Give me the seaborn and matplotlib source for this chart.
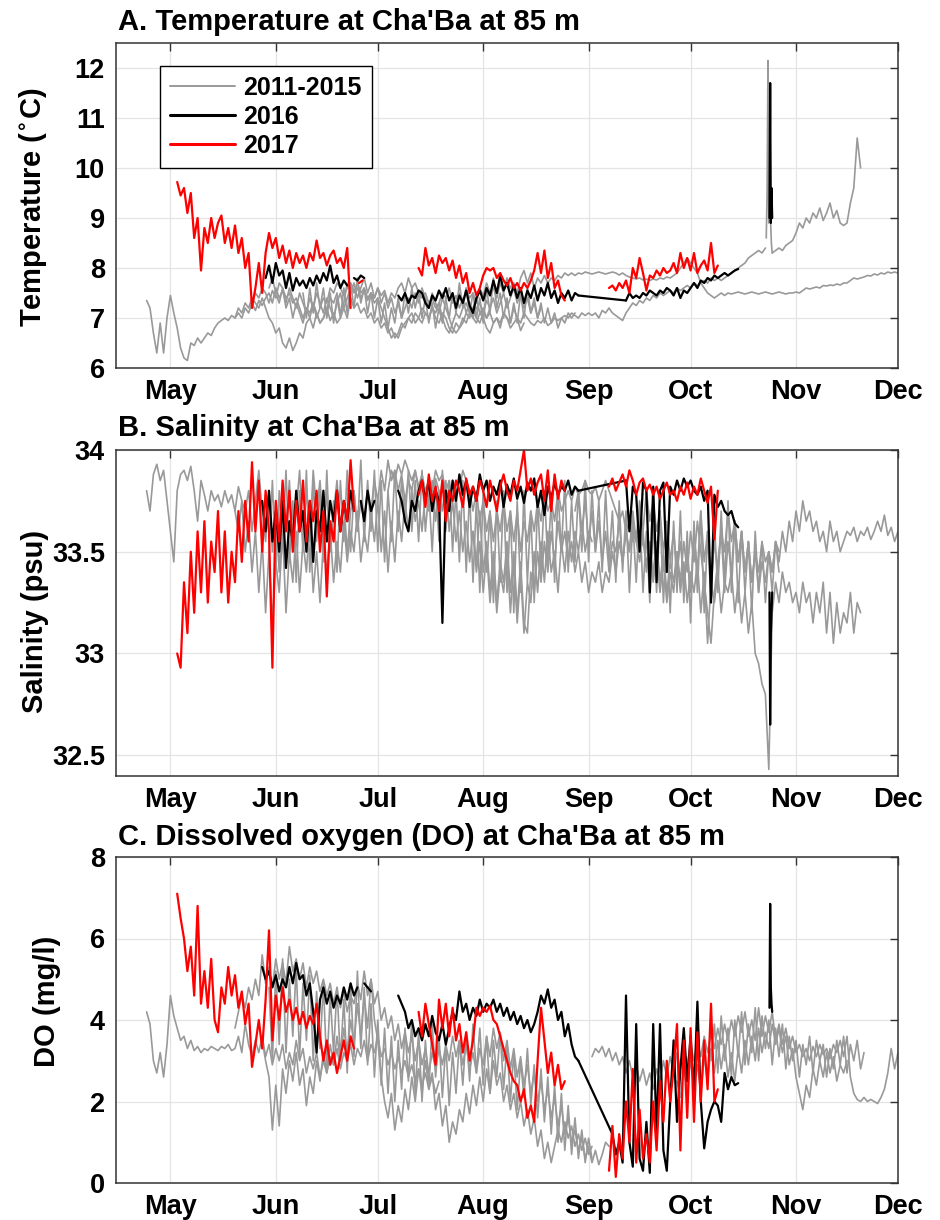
import numpy as np
import pandas as pd
import matplotlib
matplotlib.use("Agg")
import matplotlib.pyplot as plt
import seaborn as sns
from matplotlib.lines import Line2D

# ---------------- categories / ticks ----------------
month_days = [121, 152, 182, 213, 244, 274, 305, 335]   # day of year, 1st of month
month_labels = ["May", "Jun", "Jul", "Aug", "Sep", "Oct", "Nov", "Dec"]
groups = ["2011-2015", "2016", "2017"]
temp_ticks = [6, 7, 8, 9, 10, 11, 12]
sal_ticks = [32.5, 33, 33.5, 34]
sal_tick_labels = ["32.5", "33", "33.5", "34"]
do_ticks = [0, 2, 4, 6, 8]

# ---------------- Panel A: temperature (daily values unless noted) ----------------
tA_g1_start = 114
tA_g1 = [7.35, 7.2, 6.7, 6.3, 6.9, 6.3, 7.0, 7.45, 7.1, 6.8, 6.4, 6.2, 6.15, 6.5, 6.45, 6.6, 6.5, 6.6, 6.7, 6.65,
         6.8, 6.9, 6.95, 7.0, 6.95, 7.05, 7.0, 7.1, 7.0, 7.2, 7.1, 7.3, 7.15, 7.35, 7.25, 7.4, 7.5, 7.3, 7.6, 7.4,
         7.55, 7.3, 7.6, 7.4, 7.2, 7.5, 7.3, 7.1, 7.4, 7.2, 7.5, 7.3, 7.1, 7.4, 7.2, 7.0, 7.3, 7.5, 7.2, 7.4,
         7.6, 7.5, 7.7, 7.5, 7.6, 7.4, 7.5, 7.3, 7.4, 7.2, 7.0, 6.8, 6.6, 6.7, 6.6, 6.8, 6.9, 7.0, 7.1, 6.9,
         7.0, 7.2, 7.1, 7.0, 7.2, 7.1, 7.3, 7.0, 6.8, 6.7, 6.9, 7.1, 7.0, 7.2, 7.3, 7.1, 7.2, 7.4, 7.1, 7.0,
         6.8, 6.7, 6.9, 7.0, 6.8, 7.1, 7.0, 6.9, 7.2, 7.0, 6.75, 6.9]
tA_g2_start = 140
tA_g2 = [7.0, 7.2, 7.1, 7.3, 7.2, 7.4, 7.3, 7.2, 7.4, 7.2, 7.0, 6.9, 6.7, 6.8, 6.5, 6.4, 6.6, 6.35, 6.5, 6.7,
         6.6, 6.9, 7.0, 6.8, 7.1, 6.9, 7.0, 7.2, 6.95, 7.1, 6.9, 7.0, 7.2, 7.0, 7.4, 7.2, 7.3, 7.1, 7.2, 7.0,
         7.1, 6.9, 7.0, 6.8, 6.9, 6.7, 6.8, 6.6, 6.7, 6.9, 6.8, 7.0, 6.9, 7.1, 7.0, 6.9, 7.1, 7.0, 7.2, 7.0,
         6.9, 7.1, 7.0, 6.8, 6.7, 6.9, 6.8, 7.0, 6.9, 7.1, 7.0, 6.9, 7.1, 7.2, 7.0, 7.1, 6.9, 7.0, 6.9, 7.1,
         7.0, 6.8, 6.9, 7.0, 6.9, 7.1, 7.0, 6.9, 6.85, 6.95, 6.9, 7.0, 6.85, 6.9, 7.0, 6.95, 7.0, 7.05, 7.0, 7.1,
         7.05, 7.0, 7.1, 7.05, 7.1, 7.05, 7.1, 7.0, 7.15, 7.1, 7.2, 7.1, 7.05, 7.0, 6.95, 7.1, 7.2, 7.3, 7.25, 7.35,
         7.3, 7.4, 7.35, 7.45, 7.4, 7.5, 7.45, 7.5, 7.55, 7.5, 7.6, 7.55, 7.6, 7.65, 7.6, 7.7, 7.65, 7.7, 7.75, 7.7,
         7.8, 7.75, 7.8, 7.75, 7.8, 7.85, 7.9, 7.95, 8.0, 8.05, 8.1, 8.2, 8.25, 8.3, 8.35, 8.3, 8.4]
tA_g2s_start = 296.25
tA_g2s = [8.6, 9.5, 12.15, 8.9, 9.8, 9.0, 8.5, 8.3]          # 6-hourly
tA_g2b_start = 298
tA_g2b = [8.3, 8.35, 8.4, 8.35, 8.45, 8.5, 8.55, 8.7, 8.9, 8.8, 9.0, 8.9, 9.1, 9.0, 9.2, 8.95, 9.1, 9.3, 9.0, 9.15,
          8.9, 8.85, 8.9, 9.3, 9.6, 10.6, 10.0]
tA_g3_start = 205
tA_g3 = [7.4, 7.5, 7.3, 7.6, 7.4, 7.5, 7.3, 7.6, 7.45, 7.7, 7.5, 7.6, 7.4, 7.7, 7.5, 7.8, 7.6, 7.7, 7.5, 7.8,
         7.95, 7.7, 7.9, 7.6, 7.8, 7.7, 7.85, 7.7, 7.8, 7.75, 7.85, 7.8, 7.9, 7.85, 7.9, 7.85, 7.9, 7.88, 7.92, 7.9,
         7.88, 7.9, 7.92, 7.9, 7.88, 7.9, 7.92, 7.9, 7.86, 7.9, 7.85, 7.82, 7.8, 7.78, 7.8, 7.76, 7.78, 7.75, 7.78, 7.76,
         7.8, 7.78, 7.82, 7.8, 7.85, 7.9, 8.0, 8.1, 8.2, 8.1, 8.0, 7.9, 7.7, 7.6, 7.5, 7.45, 7.4, 7.45, 7.5, 7.45,
         7.5, 7.48, 7.5, 7.52, 7.5, 7.48, 7.5, 7.52, 7.5, 7.48, 7.5, 7.52, 7.5, 7.48, 7.5, 7.52, 7.5, 7.48, 7.5, 7.5,
         7.52, 7.5, 7.55, 7.6, 7.58, 7.6, 7.62, 7.6, 7.65, 7.64, 7.66, 7.65, 7.68, 7.66, 7.7, 7.7, 7.75, 7.8, 7.78, 7.8,
         7.82, 7.85, 7.84, 7.88, 7.86, 7.9, 7.88, 7.92, 7.9, 7.92, 7.9]
tA_g4_start = 145
tA_g4 = [7.3, 7.5, 7.4, 7.6, 7.5, 7.3, 7.55, 7.4, 7.7, 7.6, 7.4, 7.5, 7.3, 7.4, 7.2, 7.0, 7.2, 7.1, 7.3, 7.0,
         7.2, 7.4, 7.3, 7.6, 7.5, 7.7, 7.6, 7.45, 7.6, 7.7, 7.55, 7.6, 7.4, 7.55, 7.35, 7.5, 7.4, 7.6, 7.45, 7.55,
         7.3, 7.5, 7.4, 7.6, 7.7, 7.5, 7.8, 7.6, 7.7, 7.5, 7.4, 7.5, 7.3, 7.4, 7.2, 7.3, 7.5, 7.4, 7.6, 7.3,
         7.45, 7.2, 7.4, 7.1, 7.3, 7.0, 7.2, 7.3, 7.1, 7.35, 7.2, 7.4, 7.1, 7.3, 7.5, 7.2, 7.4, 7.6, 7.3, 7.5,
         7.2, 7.4, 7.1, 7.3, 7.0, 7.2]
tA_g5_start = 150
tA_g5 = [7.6, 7.8, 7.5, 7.3, 7.6, 7.2, 7.4, 7.0, 7.3, 7.1, 6.9, 7.2, 7.0, 7.3, 7.1, 6.9, 7.0, 7.2, 7.4, 7.3,
         7.5, 7.1, 7.3, 7.7, 7.5, 7.7, 7.4, 7.6, 7.8, 7.5, 7.7, 7.4, 7.6, 7.3, 7.5, 7.2, 7.4, 7.1, 7.3, 7.0,
         7.2, 7.4, 7.2, 7.5, 7.3, 7.6, 7.4, 7.2, 7.5, 7.3, 7.1, 7.4, 7.2, 7.0, 6.8, 6.7, 6.8, 6.9, 7.1, 7.0,
         7.2, 7.0, 6.9, 7.1, 7.0, 7.2]
tA_g6_start = 160
tA_g6 = [7.5, 7.0, 7.6, 7.1, 7.7, 7.2, 7.6, 7.0, 7.5, 6.9, 7.4, 7.0, 7.6, 7.1, 7.7, 7.2, 7.8, 7.3, 7.6, 7.1,
         7.5, 7.0, 7.4, 6.9, 7.3, 6.8, 7.2, 6.9, 7.4, 7.0, 7.5, 7.1, 7.6, 7.2, 7.5, 7.0, 7.4, 6.9, 7.3, 6.8,
         7.2, 6.9, 7.4, 7.0, 7.5, 7.1, 7.7, 7.2, 7.6, 7.1, 7.5, 7.0, 7.4, 6.9, 7.6, 7.1, 7.8, 7.2, 7.5, 7.0,
         7.4, 6.9, 7.3, 6.9, 7.5, 7.0, 7.6, 7.1, 7.4, 7.0, 7.3, 6.9, 7.2, 6.9, 7.1, 6.8, 7.0, 6.9, 7.1, 7.0, 7.1]

tA_k1_start = 149
tA_k1 = [7.8, 8.05, 7.7, 8.1, 7.85, 7.95, 7.6, 7.9, 7.55, 7.8, 7.65, 7.75, 7.6, 7.8, 7.65, 7.85, 7.7, 7.9, 7.75, 8.05,
         7.7, 7.85, 7.6, 7.75, 7.65]
tA_k1b_start = 175
tA_k1b = [7.8, 7.75, 7.85, 7.8]
tA_k2_start = 188
tA_k2 = [7.45, 7.35, 7.5, 7.3, 7.45, 7.4, 7.55, 7.5, 7.3, 7.2, 7.45, 7.35, 7.55, 7.4, 7.6, 7.35, 7.5, 7.2, 7.45, 7.3,
         7.55, 7.25, 7.1, 7.4, 7.55, 7.35, 7.6, 7.45, 7.75, 7.5, 7.85, 7.55, 7.7, 7.45, 7.65, 7.4, 7.6, 7.3, 7.55, 7.4,
         7.65, 7.35, 7.6, 7.45, 7.7, 7.4, 7.55, 7.3, 7.5, 7.4, 7.55, 7.35, 7.5, 7.45]
tA_kbridge_days = [241, 255]
tA_kbridge = [7.45, 7.35]
tA_k3_start = 255
tA_k3 = [7.35, 7.5, 7.4, 7.45, 7.4, 7.5, 7.45, 7.55, 7.5, 7.45, 7.55, 7.5, 7.6, 7.55, 7.45, 7.6, 7.4, 7.55, 7.5, 7.6,
         7.7, 7.6, 7.75, 7.7, 7.8, 7.75, 7.85, 7.8, 7.85, 7.9, 7.85, 7.9, 7.95, 7.98]
tA_kspike_start = 297.2
tA_kspike = [9.0, 11.7, 8.9, 9.6, 9.0]                       # 0.2-day steps

tA_r1_start = 123
tA_r1 = [9.72, 9.45, 9.6, 9.1, 9.5, 8.6, 9.0, 7.95, 8.8, 8.5, 9.0, 8.6, 8.9, 9.05, 8.5, 8.8, 8.4, 8.85, 8.3, 8.6,
         8.0, 8.3, 7.2, 7.6, 8.1, 7.5, 8.3, 8.7, 8.4, 8.6, 8.2, 8.45, 8.1, 8.35, 8.0, 8.3, 8.1, 8.25, 8.0, 8.3,
         8.15, 8.55, 8.2, 8.3, 8.05, 8.25, 8.35, 8.1, 8.2, 8.0, 8.4, 7.2]
tA_r1b_start = 176.5
tA_r1b = [7.7, 7.75]
tA_r2_start = 194
tA_r2 = [8.0, 7.85, 8.4, 8.05, 8.2, 7.9, 8.25, 8.1, 8.2, 7.95, 8.15, 7.8, 8.05, 7.7, 7.9, 7.5, 7.7, 7.45, 7.6, 7.85,
         8.0, 7.95, 8.0, 7.8, 7.9, 7.75, 7.65, 7.8, 7.6, 7.7, 7.55, 7.7, 7.6, 7.75, 7.95, 8.3, 7.9, 8.35, 7.8, 8.1,
         7.6, 7.75, 7.45, 7.35]
tA_r3_start = 250
tA_r3 = [7.6, 7.65, 7.55, 7.7, 7.6, 7.75, 7.5, 8.0, 7.8, 8.2, 7.9, 7.55, 7.85, 7.8, 7.95, 7.85, 8.0, 7.9, 7.95, 8.1,
         7.9, 8.3, 8.0, 8.2, 7.95, 8.3, 7.9, 8.05, 8.15, 7.95, 8.5, 7.9, 8.05]

# ---------------- Panel B: salinity ----------------
sB_g1_start = 114
sB_g1 = [33.8, 33.7, 33.88, 33.93, 33.85, 33.9, 33.75, 33.6, 33.45, 33.8, 33.88, 33.9, 33.85, 33.92, 33.8, 33.65, 33.85,
         33.78, 33.7, 33.8, 33.75, 33.78, 33.72, 33.8, 33.74, 33.78, 33.7, 33.82, 33.75, 33.7, 33.8, 33.6, 33.75, 33.9,
         33.7, 33.55, 33.8, 33.5, 33.75, 33.4, 33.7, 33.6, 33.85, 33.5, 33.7, 33.9, 33.6, 33.8, 33.55, 33.9, 33.7,
         33.85, 33.6, 33.8, 33.5, 33.7, 33.85, 33.6, 33.75, 33.5, 33.7, 33.8, 33.6, 33.75, 33.65, 33.8, 33.7, 33.85,
         33.75, 33.9, 33.8, 33.95, 33.85, 33.9, 33.8, 33.88, 33.75, 33.85, 33.8, 33.9, 33.82, 33.88, 33.8, 33.85,
         33.78, 33.86, 33.8]
sB_g2_start = 140
sB_g2 = [33.7, 33.6, 33.75, 33.5, 33.65, 33.4, 33.6, 33.3, 33.55, 33.2, 33.5, 33.15, 33.45, 33.3, 33.6, 33.2, 33.5,
         33.35, 33.6, 33.3, 33.55, 33.4, 33.65, 33.3, 33.5, 33.25, 33.55, 33.4, 33.6, 33.35, 33.55, 33.4, 33.65, 33.45,
         33.6, 33.5, 33.7, 33.45, 33.6, 33.5, 33.7, 33.55, 33.75, 33.5, 33.7, 33.4, 33.65, 33.45, 33.7, 33.55, 33.75,
         33.6, 33.8, 33.65, 33.75, 33.6, 33.8, 33.7, 33.85, 33.65, 33.8, 33.7, 33.85, 33.6, 33.75, 33.55, 33.7, 33.5,
         33.65, 33.45, 33.6, 33.4, 33.55, 33.3, 33.5, 33.25, 33.45, 33.2, 33.4, 33.3, 33.5, 33.2, 33.45, 33.15, 33.4,
         33.1, 33.35, 33.25, 33.5, 33.3, 33.55, 33.35, 33.6, 33.4, 33.5, 33.3, 33.55, 33.4, 33.6, 33.45, 33.6, 33.5,
         33.65, 33.5, 33.6, 33.55]
sB_g3_start = 185
sB_g3 = [33.8, 33.9, 33.85, 33.93, 33.88, 33.95, 33.9, 33.85, 33.9, 33.8, 33.85, 33.75, 33.85, 33.8, 33.9, 33.85, 33.88,
         33.8, 33.85, 33.75, 33.85, 33.8, 33.9, 33.85, 33.8, 33.7, 33.8, 33.65, 33.75, 33.6, 33.7, 33.55, 33.7, 33.6,
         33.75, 33.6, 33.7, 33.55, 33.7, 33.5, 33.65, 33.55, 33.7, 33.6, 33.75, 33.65, 33.8, 33.7, 33.75, 33.65, 33.8,
         33.7, 33.75, 33.8, 33.75, 33.82, 33.78, 33.8, 33.85, 33.8, 33.78, 33.82, 33.75, 33.8, 33.85, 33.8, 33.75, 33.7,
         33.65, 33.7, 33.6, 33.65, 33.55, 33.6, 33.5, 33.55, 33.45, 33.5, 33.4, 33.55, 33.35, 33.5, 33.3, 33.45, 33.35,
         33.5, 33.3, 33.45, 33.25, 33.4, 33.3, 33.45, 33.2, 33.4, 33.05, 33.35, 33.25, 33.4, 33.2, 33.35, 33.3, 33.4,
         33.2, 33.35, 33.15, 33.3, 33.1, 33.25, 33.0, 32.95, 32.85, 32.8, 32.43, 33.2, 33.35, 33.25, 33.4, 33.3, 33.35,
         33.25, 33.3, 33.2, 33.35, 33.25, 33.3, 33.15, 33.3, 33.2, 33.35, 33.1, 33.3, 33.05, 33.25, 33.1, 33.2, 33.15,
         33.3, 33.1, 33.25, 33.2]
sB_g4_start = 240
sB_g4 = [33.7, 33.8, 33.6, 33.75, 33.55, 33.7, 33.5, 33.65, 33.45, 33.6, 33.4, 33.55, 33.5, 33.65, 33.45, 33.6, 33.5,
         33.7, 33.55, 33.75, 33.6, 33.8, 33.65, 33.75, 33.6, 33.7, 33.5, 33.65, 33.45, 33.6, 33.4, 33.55, 33.35, 33.5,
         33.3, 33.6, 33.4, 33.7, 33.45, 33.6, 33.35, 33.55, 33.4, 33.6, 33.3, 33.55, 33.4, 33.65, 33.45, 33.6, 33.4,
         33.55, 33.35, 33.5, 33.3, 33.45, 33.35, 33.5, 33.4, 33.55, 33.45, 33.6, 33.5, 33.65, 33.55, 33.7, 33.6, 33.75,
         33.65, 33.7, 33.6, 33.65, 33.55, 33.6, 33.5, 33.65, 33.55, 33.6, 33.5, 33.55, 33.6, 33.58, 33.62, 33.55, 33.6,
         33.58, 33.62, 33.56, 33.6, 33.65, 33.6, 33.68, 33.58, 33.62, 33.55, 33.6]
sB_g5_start = 210
sB_g5 = [33.6, 33.45, 33.7, 33.4, 33.55, 33.3, 33.5, 33.25, 33.45, 33.35, 33.55, 33.3, 33.5, 33.2, 33.45, 33.15, 33.1,
         33.4, 33.3, 33.5, 33.35, 33.55, 33.4, 33.6, 33.45, 33.65, 33.5, 33.6, 33.45, 33.55, 33.4, 33.5, 33.35, 33.45,
         33.3, 33.4, 33.35, 33.45, 33.3, 33.4, 33.35, 33.5, 33.4, 33.55, 33.45, 33.6, 33.5, 33.65, 33.55, 33.45, 33.6,
         33.4, 33.55, 33.35, 33.5, 33.3, 33.45, 33.25, 33.4, 33.3, 33.5, 33.35, 33.55, 33.4, 33.6, 33.45, 33.65, 33.5,
         33.35, 33.2, 33.05, 33.3, 33.45, 33.6, 33.5, 33.7, 33.55, 33.65, 33.45, 33.6, 33.4, 33.55, 33.35, 33.5, 33.4,
         33.55, 33.45, 33.5, 33.4, 33.55, 33.5]
sB_g6_start = 150
sB_g6 = [33.5, 33.85, 33.4, 33.8, 33.55, 33.9, 33.45, 33.75, 33.35, 33.8, 33.5, 33.9, 33.4, 33.85, 33.55, 33.8, 33.45, 33.9, 33.5, 33.75,
         33.4, 33.85, 33.55, 33.9, 33.5, 33.8, 33.6, 33.95, 33.55, 33.85, 33.6, 33.9, 33.5, 33.85, 33.45, 33.8, 33.55, 33.9, 33.6, 33.85,
         33.65, 33.9, 33.6, 33.85, 33.55, 33.9, 33.6, 33.8, 33.5, 33.85, 33.55, 33.9, 33.6, 33.85, 33.5, 33.8, 33.45, 33.85, 33.4, 33.8,
         33.35, 33.75, 33.3, 33.8, 33.4, 33.7, 33.25, 33.75, 33.35, 33.8, 33.3, 33.7, 33.2, 33.75, 33.3, 33.8, 33.35, 33.7, 33.25, 33.75,
         33.4, 33.8, 33.45, 33.75, 33.35, 33.8, 33.5, 33.85, 33.4, 33.75, 33.45, 33.8, 33.5, 33.85, 33.45, 33.8, 33.5, 33.75, 33.4, 33.8,
         33.45, 33.7, 33.35, 33.75, 33.4, 33.7, 33.3, 33.65, 33.35, 33.7, 33.3, 33.6, 33.25, 33.65, 33.3, 33.7, 33.25, 33.6, 33.2, 33.65,
         33.3, 33.7, 33.25, 33.6, 33.15, 33.65, 33.3, 33.7, 33.2, 33.6, 33.25, 33.65, 33.3, 33.7, 33.35, 33.75, 33.3, 33.65, 33.25, 33.6,
         33.3, 33.55, 33.2, 33.6, 33.3, 33.55, 33.25, 33.5, 33.3, 33.55, 33.4]

sB_k1_start = 148
sB_k1 = [33.75, 33.6, 33.8, 33.55, 33.7, 33.5, 33.75, 33.42, 33.65, 33.55, 33.8, 33.6, 33.7, 33.5, 33.75, 33.45, 33.7,
         33.6, 33.8, 33.55, 33.75, 33.65, 33.8, 33.6, 33.75, 33.65, 33.8, 33.7]
sB_k1b_start = 177
sB_k1b = [33.75, 33.65, 33.8, 33.7, 33.75]
sB_k2_start = 188
sB_k2 = [33.8, 33.75, 33.65, 33.6, 33.75, 33.7, 33.8, 33.85, 33.75, 33.85, 33.7, 33.8, 33.75, 33.15, 33.8, 33.7, 33.85,
         33.75, 33.88, 33.78, 33.85, 33.72, 33.82, 33.75, 33.88, 33.8, 33.85, 33.75, 33.82, 33.78, 33.85, 33.72, 33.83,
         33.78, 33.86, 33.76, 33.82, 33.74, 33.84, 33.8, 33.86, 33.72, 33.8, 33.68, 33.82, 33.76, 33.84, 33.78, 33.82,
         33.8, 33.85, 33.78, 33.82, 33.8]
sB_kbridge_days = [241, 255]
sB_kbridge = [33.8, 33.85]
sB_k3_start = 255
sB_k3 = [33.85, 33.6, 33.82, 33.78, 33.5, 33.84, 33.8, 33.3, 33.82, 33.35, 33.8, 33.84, 33.4, 33.82, 33.78, 33.85, 33.8,
         33.86, 33.82, 33.85, 33.8, 33.78, 33.82, 33.75, 33.8, 33.25, 33.78, 33.72, 33.75, 33.7, 33.68, 33.7, 33.64, 33.62]
sB_kspike_start = 297.2
sB_kspike = [33.3, 32.65, 33.1, 33.2, 33.3]

sB_r1_start = 123
sB_r1 = [33.0, 32.93, 33.35, 33.1, 33.5, 33.2, 33.6, 33.3, 33.65, 33.25, 33.55, 33.4, 33.7, 33.3, 33.6, 33.25, 33.5,
         33.35, 33.7, 33.45, 33.75, 33.55, 33.94, 33.6, 33.85, 33.5, 33.8, 33.6, 32.93, 33.75, 33.55, 33.85, 33.6, 33.8,
         33.5, 33.75, 33.6, 33.85, 33.55, 33.75, 33.65, 33.8, 33.5, 33.7, 33.28, 33.65, 33.55, 33.8, 33.6, 33.75, 33.65,
         33.95, 33.7]
sB_r2_start = 194
sB_r2 = [33.78, 33.85, 33.72, 33.88, 33.75, 33.82, 33.7, 33.85, 33.65, 33.8, 33.75, 33.85, 33.8, 33.72, 33.86, 33.78,
         33.82, 33.75, 33.85, 33.8, 33.72, 33.85, 33.78, 33.7, 33.82, 33.88, 33.8, 33.75, 33.85, 33.8, 33.9, 34.0, 33.8,
         33.86, 33.78, 33.84, 33.88, 33.75, 33.9, 33.7, 33.88, 33.76, 33.85, 33.8]
sB_r3_start = 250
sB_r3 = [33.82, 33.86, 33.8, 33.84, 33.88, 33.82, 33.9, 33.85, 33.78, 33.84, 33.86, 33.8, 33.83, 33.78, 33.82, 33.76,
         33.8, 33.84, 33.78, 33.8, 33.75, 33.82, 33.78, 33.84, 33.76, 33.82, 33.78, 33.86, 33.8, 33.74, 33.82, 33.56, 33.8]

# ---------------- Panel C: dissolved oxygen ----------------
dC_g1_start = 114
dC_g1 = [4.2, 3.9, 3.0, 2.7, 3.2, 2.6, 3.4, 4.6, 4.1, 3.8, 3.5, 3.6, 3.3, 3.5, 3.25, 3.35, 3.2, 3.3, 3.25, 3.35,
         3.3, 3.25, 3.35, 3.3, 3.4, 3.25, 3.3, 3.6, 3.2, 3.9, 3.4, 3.1, 3.5, 3.2, 3.6, 3.1, 3.4, 2.9, 3.3, 3.0,
         3.4, 2.8, 3.2, 2.9, 3.5, 3.0, 3.3, 2.7, 3.1, 2.8, 3.2, 2.6, 3.0, 2.7, 3.1, 2.9, 3.3, 2.8, 3.2, 3.0,
         3.4, 2.9, 3.3, 3.1, 3.5, 3.0, 3.4, 3.2, 3.6, 3.1, 3.3, 2.9, 3.2, 2.8, 3.1, 2.7, 3.0, 2.6, 2.9, 2.5,
         2.8, 2.4, 2.7, 2.3, 2.6, 2.2, 2.5]
dC_g2_start = 140
dC_g2 = [3.8, 4.2, 4.6, 4.3, 4.8, 4.5, 5.0, 4.6, 5.6, 4.9, 5.3, 4.8, 5.5, 5.0, 5.4, 4.9, 5.8, 5.2, 5.5, 5.0,
         5.4, 4.8, 5.3, 4.9, 5.2, 4.7, 5.0, 4.6, 4.9, 4.4, 4.8, 4.3, 4.7, 4.2, 4.6, 4.4, 4.9, 4.5, 5.2, 4.6,
         5.0, 4.4, 4.7, 4.0, 4.3, 3.8, 4.1, 3.5, 3.9, 3.3, 3.7, 3.2, 3.6, 3.0, 3.5, 2.9, 3.3, 2.7, 3.2, 2.8,
         3.3, 2.9, 3.4, 3.0, 3.6, 3.1, 3.5, 2.9, 3.4, 2.8, 3.2, 2.7, 3.3, 2.9, 3.6, 3.1, 3.8, 3.3, 3.7, 3.0,
         3.5, 2.8, 3.3, 2.6, 3.1, 2.4, 2.9, 2.2, 2.7, 2.0, 2.5, 1.8, 2.3, 1.6, 2.1, 1.4, 1.9, 1.2, 1.6, 1.0,
         1.3, 0.8, 1.1, 0.6, 0.9, 0.5, 0.8, 0.45, 0.7, 1.0, 0.9]
dC_g3_start = 148
dC_g3 = [3.5, 3.0, 2.6, 1.3, 2.4, 1.4, 2.8, 2.2, 3.0, 2.5, 3.2, 2.4, 2.8, 1.9, 2.6, 2.2, 3.0, 2.5, 3.2, 2.7,
         3.4, 2.9, 3.6, 3.0, 3.8, 3.2, 4.0, 3.4, 4.4, 3.6, 4.6, 3.8, 5.0, 4.0, 3.5, 2.6, 2.0, 1.6, 2.2, 1.3,
         1.9, 1.5, 2.3, 1.8, 2.6, 2.0, 2.8, 2.2, 3.0, 2.4, 2.7, 1.8, 2.2, 1.4, 1.9, 1.0, 1.5, 1.2, 1.8, 1.5,
         2.2, 1.7, 2.4, 1.9, 2.6, 2.0, 2.8, 2.2, 3.0, 2.4, 2.7, 2.0, 2.4, 1.8, 2.2, 1.6, 2.0, 1.4, 1.8, 1.2,
         1.6, 0.9, 1.3, 0.6, 1.0, 0.5, 0.9, 1.3, 1.0, 1.5, 1.1, 1.4, 0.9, 1.2, 0.8, 1.1, 0.7, 0.9]
dC_g4_start = 245
dC_g4 = [3.1, 3.3, 3.2, 3.35, 3.1, 3.3, 3.0, 3.2, 2.9, 3.1, 2.7, 3.0, 2.6, 2.9, 2.5, 2.8, 2.4, 2.7, 2.3, 2.8,
         2.5, 3.0, 2.6, 3.1, 2.7, 3.2, 2.8, 3.3, 2.9, 3.4, 3.0, 3.5, 3.1, 3.6, 3.2, 3.7, 3.3, 3.8, 3.4, 3.9,
         3.5, 4.0, 3.6, 4.1, 3.7, 4.2, 3.6, 4.0, 3.5, 4.3, 3.6, 4.1, 3.7, 4.2, 3.5, 3.9, 3.4, 3.8, 3.3, 3.6,
         3.2, 3.4, 3.1, 3.3, 3.0, 3.35, 3.1, 3.4, 3.15, 3.3, 3.05, 3.4, 3.2, 3.5, 3.1, 3.6, 2.6, 2.2, 2.05, 2.0,
         2.1, 2.0, 2.05, 2.0, 1.95, 2.1, 2.3, 2.7, 3.3, 2.8, 3.2]
dC_g5_start = 270
dC_g5 = [2.5, 2.1, 2.8, 2.3, 3.0, 2.4, 2.9, 2.2, 3.1, 2.5, 3.3, 2.7, 3.5, 2.8, 3.4, 2.6, 3.2, 2.5, 3.3, 2.7,
         3.5, 2.9, 3.6, 3.0, 3.8, 3.2, 3.7, 3.3, 3.9, 3.4, 3.8, 3.2, 3.6, 2.9, 3.3, 2.6, 2.2, 1.8, 2.4, 2.1,
         2.8, 2.4, 3.0, 2.6, 3.2, 2.7, 3.1, 2.5, 2.9, 2.7, 3.0]
dC_g6_start = 150
dC_g6 = [4.8, 3.0, 5.2, 3.4, 5.5, 3.2, 5.0, 3.6, 5.3, 3.1, 4.9, 3.5, 5.1, 3.0, 4.7, 3.3, 4.9, 2.8, 4.6, 3.2,
         4.8, 3.0, 4.5, 2.7, 4.9, 3.1, 5.2, 3.3, 4.8, 2.9, 4.4, 2.6, 4.0, 2.4, 3.8, 2.2, 3.6, 2.0, 3.5, 2.3,
         3.8, 2.5, 4.0, 2.2, 3.7, 2.0, 3.5, 2.3, 3.9, 2.6, 3.6, 2.1, 3.4, 1.9, 3.2, 2.2, 3.5, 2.4, 3.7, 2.5,
         3.9, 2.7, 3.8, 2.4, 3.6, 2.2, 3.5, 2.6, 3.7, 2.3, 3.4, 2.0, 3.2, 1.8, 3.0, 2.1, 3.3, 1.9, 2.9, 1.6,
         2.8, 1.5, 2.6, 1.2, 2.4, 1.0, 2.2, 0.8, 1.9, 0.7, 1.6, 0.6, 1.3, 0.5, 1.1, 0.6]
dC_g7_start = 280
dC_g7 = [3.0, 3.9, 2.7, 4.1, 3.0, 3.8, 2.6, 4.0, 3.1, 4.2, 2.9, 3.9, 3.2, 4.3, 3.0, 4.1, 3.3, 4.0, 2.9, 3.8,
         3.1, 3.9, 2.8, 3.6, 3.0, 3.5, 2.6, 3.4, 2.9, 3.6, 2.7, 3.5, 3.0, 3.4, 2.6, 3.3, 2.8, 3.5, 2.9, 3.6,
         2.7, 3.4, 3.0, 3.5, 2.8, 3.2]

dC_k1_start = 148
dC_k1 = [5.3, 5.0, 5.2, 4.8, 5.1, 4.7, 5.0, 4.8, 5.3, 4.9, 5.4, 5.0, 5.1, 4.6, 4.9, 4.2, 3.2, 4.5, 4.8, 4.4,
         4.7, 4.3, 4.6, 4.4, 4.8, 4.5, 4.9, 4.6, 4.8]
dC_k1b_start = 178
dC_k1b = [4.9, 4.8, 4.7]
dC_k2_start = 188
dC_k2 = [4.6, 4.4, 4.2, 3.8, 4.0, 3.6, 3.8, 3.5, 3.9, 3.6, 4.1, 3.7, 3.5, 3.9, 3.4, 3.8, 4.2, 4.0, 4.7, 4.2,
         4.4, 4.0, 4.3, 4.1, 4.5, 4.2, 4.4, 4.3, 4.5, 4.2, 4.4, 4.1, 4.3, 4.0, 4.2, 3.9, 4.1, 3.8, 4.0, 3.7,
         3.9, 4.2, 4.6, 4.4, 4.75, 4.3, 4.5, 4.0, 4.2, 3.6, 3.9, 3.4, 3.1, 3.0]
dC_kbridge_days = [241, 251]
dC_kbridge = [3.0, 1.2]
dC_k3_start = 251
dC_k3 = [1.2, 0.7, 1.0, 0.5, 4.6, 1.0, 0.4, 3.9, 0.6, 0.3, 1.5, 0.25, 3.9, 1.2, 3.9, 0.8, 0.3, 2.0, 3.5, 1.5,
         2.8, 3.8, 2.5, 3.6, 2.2, 4.45, 2.0, 0.85, 1.5, 1.8, 2.0, 1.9, 1.5, 2.7, 2.3, 2.6, 2.4, 2.45]
dC_kspike_start = 297.2
dC_kspike = [4.3, 6.85, 4.8, 4.4, 4.2]

dC_r1_start = 123
dC_r1 = [7.1, 6.5, 6.0, 5.2, 5.8, 4.6, 6.8, 4.4, 5.2, 4.3, 5.5, 4.0, 3.7, 4.8, 4.4, 5.3, 4.6, 5.1, 4.3, 4.7,
         3.9, 4.4, 2.85, 3.4, 4.0, 3.3, 4.5, 6.2, 3.5, 4.6, 4.0, 4.8, 4.2, 4.5, 4.0, 4.3, 3.9, 4.2, 3.8, 4.1,
         3.9, 4.4, 3.6, 3.0, 3.5, 2.9, 3.2, 2.7, 3.1, 3.5, 3.0, 3.6, 3.3]
dC_r2_start = 194
dC_r2 = [4.2, 3.6, 4.4, 3.9, 3.4, 2.9, 4.5, 3.8, 4.4, 3.6, 4.3, 3.5, 3.9, 3.2, 3.7, 3.0, 3.5, 4.3, 4.1, 4.3,
         4.2, 4.35, 4.0, 3.9, 3.6, 3.3, 3.0, 2.7, 2.5, 2.4, 2.0, 2.3, 1.6, 1.9, 1.5, 3.0, 4.3, 3.5, 2.7, 3.2,
         2.4, 2.9, 2.3, 2.5]
dC_r3_start = 250
dC_r3 = [0.3, 1.4, 0.15, 1.2, 0.6, 2.0, 1.0, 2.8, 0.5, 1.8, 0.6, 1.2, 0.5, 2.0, 0.8, 2.5, 1.5, 3.0, 2.0, 2.8,
         3.9, 0.8, 3.5, 1.6, 3.8, 1.5, 3.7, 2.0, 3.5, 2.3, 4.4, 2.0, 2.3]


# ---------------- helpers ----------------
def seg_frame(vals, start=None, days=None, step=1.0, group="", sid=0):
    if days is None:
        days = start + step * np.arange(len(vals))
    return pd.DataFrame({"day": np.asarray(days, float), "val": vals, "group": group, "seg": sid})


def build(segments):
    frames = []
    for i, (g, vals, start, days, step) in enumerate(segments):
        frames.append(seg_frame(vals, start=start, days=days, step=step, group=g, sid=i))
    return pd.concat(frames, ignore_index=True)


G, K, R = groups
dfA = build([
    (G, tA_g1, tA_g1_start, None, 1), (G, tA_g2, tA_g2_start, None, 1), (G, tA_g2s, tA_g2s_start, None, 0.25),
    (G, tA_g2b, tA_g2b_start, None, 1), (G, tA_g3, tA_g3_start, None, 1), (G, tA_g4, tA_g4_start, None, 1),
    (G, tA_g5, tA_g5_start, None, 1), (G, tA_g6, tA_g6_start, None, 1),
    (K, tA_k1, tA_k1_start, None, 1), (K, tA_k1b, tA_k1b_start, None, 1), (K, tA_k2, tA_k2_start, None, 1),
    (K, tA_kbridge, None, tA_kbridge_days, 1), (K, tA_k3, tA_k3_start, None, 1),
    (K, tA_kspike, tA_kspike_start, None, 0.2),
    (R, tA_r1, tA_r1_start, None, 1), (R, tA_r1b, tA_r1b_start, None, 1), (R, tA_r2, tA_r2_start, None, 1),
    (R, tA_r3, tA_r3_start, None, 1),
])
dfB = build([
    (G, sB_g1, sB_g1_start, None, 1), (G, sB_g2, sB_g2_start, None, 1), (G, sB_g3, sB_g3_start, None, 1),
    (G, sB_g4, sB_g4_start, None, 1), (G, sB_g5, sB_g5_start, None, 1), (G, sB_g6, sB_g6_start, None, 1),
    (K, sB_k1, sB_k1_start, None, 1), (K, sB_k1b, sB_k1b_start, None, 1), (K, sB_k2, sB_k2_start, None, 1),
    (K, sB_kbridge, None, sB_kbridge_days, 1), (K, sB_k3, sB_k3_start, None, 1),
    (K, sB_kspike, sB_kspike_start, None, 0.2),
    (R, sB_r1, sB_r1_start, None, 1), (R, sB_r2, sB_r2_start, None, 1), (R, sB_r3, sB_r3_start, None, 1),
])
dfC = build([
    (G, dC_g1, dC_g1_start, None, 1), (G, dC_g2, dC_g2_start, None, 1), (G, dC_g3, dC_g3_start, None, 1),
    (G, dC_g4, dC_g4_start, None, 1), (G, dC_g5, dC_g5_start, None, 1), (G, dC_g6, dC_g6_start, None, 1),
    (G, dC_g7, dC_g7_start, None, 1),
    (K, dC_k1, dC_k1_start, None, 1), (K, dC_k1b, dC_k1b_start, None, 1), (K, dC_k2, dC_k2_start, None, 1),
    (K, dC_kbridge, None, dC_kbridge_days, 1), (K, dC_k3, dC_k3_start, None, 1),
    (K, dC_kspike, dC_kspike_start, None, 0.2),
    (R, dC_r1, dC_r1_start, None, 1), (R, dC_r2, dC_r2_start, None, 1), (R, dC_r3, dC_r3_start, None, 1),
])

# ---------------- style ----------------
sns.set_theme(style="white")
plt.rcParams["font.family"] = ["Liberation Sans", "DejaVu Sans"]
plt.rcParams["font.weight"] = "bold"
plt.rcParams["axes.labelweight"] = "bold"
plt.rcParams["text.color"] = "black"
plt.rcParams["axes.labelcolor"] = "black"

colors = {G: "#999999", K: "#000000", R: "#ff0000"}
widths = {G: 1.2, K: 1.6, R: 1.6}

W, H = 940, 1220
fig = plt.figure(figsize=(W / 100, H / 100), dpi=100)

ax_left, ax_right = 116, 898
panels = [
    (dfA, 43, 368, (6, 12.5), temp_ticks, [str(t) for t in temp_ticks],
     "A. Temperature at Cha'Ba at 85 m", 22, "Temperature ($^{\\circ}$C)", 33, 207),
    (dfB, 450, 775.5, (32.4, 34.0), sal_ticks, sal_tick_labels,
     "B. Salinity at Cha'Ba at 85 m", 428, "Salinity (psu)", 35, 621),
    (dfC, 857, 1183, (0, 8), do_ticks, [str(t) for t in do_ticks],
     "C. Dissolved oxygen (DO) at Cha'Ba at 85 m", 837, "DO (mg/l)", 47, 1001),
]

axes = []
for df, top, bot, ylim, yt, ytl, title, ty, ylab, lx, ly in panels:
    ax = fig.add_axes([ax_left / W, 1 - bot / H, (ax_right - ax_left) / W, (bot - top) / H])
    axes.append(ax)
    for g in groups:
        sub = df[df["group"] == g]
        sns.lineplot(data=sub, x="day", y="val", units="seg", estimator=None, sort=False,
                     color=colors[g], lw=widths[g], ax=ax, legend=False)
    ax.set_xlim(105, 335)
    ax.set_ylim(*ylim)
    ax.set_xticks(month_days)
    ax.set_xticklabels(month_labels)
    ax.set_yticks(yt)
    ax.set_yticklabels(ytl)
    ax.set_xlabel("")
    ax.set_ylabel("")
    ax.set_axisbelow(True)
    ax.grid(True, color="#e4e4e4", lw=0.9)
    ax.tick_params(direction="in", length=6, width=1.0, top=True, right=True,
                   labelsize=19.5, pad=8, color="#333333", labelcolor="black")
    for lab in ax.get_xticklabels() + ax.get_yticklabels():
        lab.set_fontweight("bold")
    for sp in ax.spines.values():
        sp.set_color("#333333")
        sp.set_linewidth(1.1)
        sp.set_visible(True)
    fig.text(118 / W, 1 - ty / H, title, ha="left", va="center", fontsize=21, fontweight="bold", color="black")
    fig.text(lx / W, 1 - ly / H, ylab, ha="center", va="center", rotation=90, fontsize=21,
             fontweight="bold", color="black")

handles = [Line2D([], [], color=colors[G], lw=1.4),
           Line2D([], [], color=colors[K], lw=2.2),
           Line2D([], [], color=colors[R], lw=2.2)]
leg = axes[0].legend(handles, groups, loc="upper left", bbox_to_anchor=(0.056, 0.929),
                     frameon=True, fancybox=False, framealpha=1, edgecolor="black",
                     prop={"size": 18, "weight": "bold"}, handlelength=2.6, handletextpad=0.35,
                     labelspacing=0.2, borderpad=0.4, borderaxespad=0)
leg.get_frame().set_linewidth(1.0)
for t in leg.get_texts():
    t.set_color("black")

fig.savefig("out.png", dpi=100)
